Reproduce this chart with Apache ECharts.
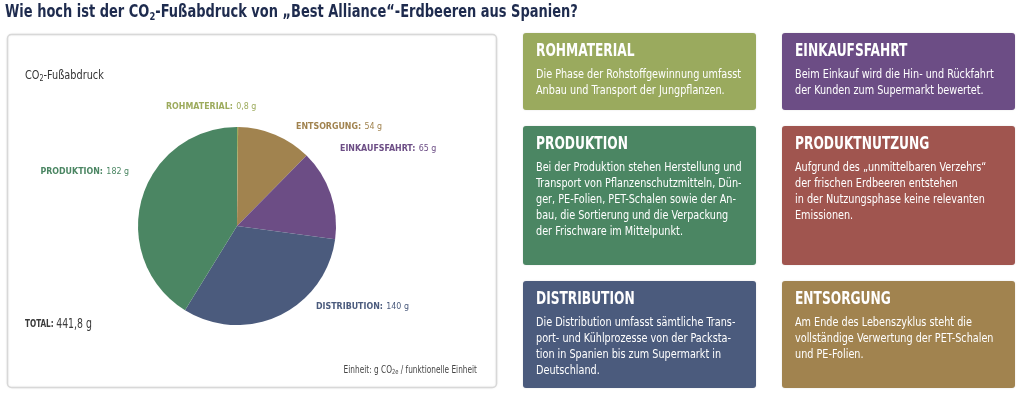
<!DOCTYPE html>
<html>
<head>
<meta charset="utf-8">
<script src="https://cdn.jsdelivr.net/npm/echarts@6/dist/echarts.min.js"></script>
<style>
  html, body { margin: 0; padding: 0; background: #fff; }
  #main { width: 1024px; height: 396px; }
</style>
</head>
<body>
<div id="main"></div>
<script>
// pie data (clockwise from 12 o'clock)
var phases = ['ROHMATERIAL', 'ENTSORGUNG', 'EINKAUFSFAHRT', 'DISTRIBUTION', 'PRODUKTION']
var grams = [0.8, 54, 65, 140, 182]
var phaseColors = ['#9dab5d', '#a1834f', '#6c4d85', '#4b5b7d', '#4b8663']
// where each label sits (x, y, align)
var labelAt = [
  [166, 107, 'left'],
  [296, 127, 'left'],
  [340, 149, 'left'],
  [316, 307, 'left'],
  [129, 172, 'right']
]

// info boxes on the right
var boxTitles = ['ROHMATERIAL', 'EINKAUFSFAHRT', 'PRODUKTION', 'PRODUKTNUTZUNG', 'DISTRIBUTION', 'ENTSORGUNG']
var boxColors = ['#9aaa5e', '#6c4d85', '#4b8663', '#a0554f', '#4b5b7d', '#a1834f']
var boxTexts = [
  'Die Phase der Rohstoffgewinnung umfasst\nAnbau und Transport der Jungpflanzen.',
  'Beim Einkauf wird die Hin- und Rückfahrt\nder Kunden zum Supermarkt bewertet.',
  'Bei der Produktion stehen Herstellung und\nTransport von Pflanzenschutzmitteln, Dün-\nger, PE-Folien, PET-Schalen sowie der An-\nbau, die Sortierung und die Verpackung\nder Frischware im Mittelpunkt.',
  'Aufgrund des „unmittelbaren Verzehrs“\nder frischen Erdbeeren entstehen\nin der Nutzungsphase keine relevanten\nEmissionen.',
  'Die Distribution umfasst sämtliche Trans-\nport- und Kühlprozesse von der Packsta-\ntion in Spanien bis zum Supermarkt in\nDeutschland.',
  'Am Ende des Lebenszyklus steht die\nvollständige Verwertung der PET-Schalen\nund PE-Folien.'
]
var boxCols = [523, 782]
var boxRows = [[33, 77], [126, 139], [281, 107]]
var boxW = 233

// no narrow font available, so texts get squeezed with scaleX
var FONT = '"DejaVu Sans Condensed", "DejaVu Sans", sans-serif'

function fmt(v) {
  return String(Math.round(v * 10) / 10).replace('.', ',')
}

var total = 0
for (var i = 0; i < grams.length; i++) total += grams[i]

var pieData = []
for (var i = 0; i < phases.length; i++) {
  pieData.push({
    name: phases[i],
    value: grams[i],
    itemStyle: { color: phaseColors[i] },
    label: { color: phaseColors[i] }
  })
}

var elements = []
// left panel frame
elements.push({
  type: 'rect',
  z: 0,
  shape: { x: 7.5, y: 34.5, width: 489, height: 353, r: 4 },
  style: { fill: '#fff', stroke: '#d8d8d8', lineWidth: 1.5, shadowBlur: 2, shadowColor: 'rgba(0,0,0,0.08)' }
})
// page title
elements.push({
  type: 'text',
  x: 5, y: 13, scaleX: 0.85,
  style: {
    text: '{t|Wie hoch ist der CO}{s|2}{t|-Fußabdruck von „Best Alliance“-Erdbeeren aus Spanien?}',
    verticalAlign: 'middle',
    rich: {
      t: { font: 'bold 17px ' + FONT, fill: '#1e2b4e', lineHeight: 22 },
      s: { font: 'bold 11px ' + FONT, fill: '#1e2b4e', lineHeight: 22, padding: [9, 0, 0, 0] }
    }
  }
})
// chart caption
elements.push({
  type: 'text',
  x: 25, y: 76, scaleX: 0.9,
  style: {
    text: '{t|CO}{s|2}{t|-Fußabdruck}',
    verticalAlign: 'middle',
    rich: {
      t: { font: '12px ' + FONT, fill: '#333', lineHeight: 16 },
      s: { font: '8px ' + FONT, fill: '#333', lineHeight: 16, padding: [6, 0, 0, 0] }
    }
  }
})
// total
elements.push({
  type: 'text',
  x: 25, y: 324, scaleX: 0.77,
  style: {
    text: '{b|TOTAL:} {v|' + fmt(total) + ' g}',
    verticalAlign: 'middle',
    rich: {
      b: { font: 'bold 10.5px ' + FONT, fill: '#3a3a3a' },
      v: { font: '13.5px ' + FONT, fill: '#3a3a3a' }
    }
  }
})
// unit note
elements.push({
  type: 'text',
  x: 477, y: 370, scaleX: 0.82,
  style: {
    text: '{t|Einheit: g CO}{s|2e}{t| / funktionelle Einheit}',
    align: 'right',
    verticalAlign: 'middle',
    rich: {
      t: { font: '10px ' + FONT, fill: '#444', lineHeight: 14 },
      s: { font: '7px ' + FONT, fill: '#444', lineHeight: 14, padding: [5, 0, 0, 0] }
    }
  }
})
// info boxes
for (var i = 0; i < boxTitles.length; i++) {
  var bx = boxCols[i % 2]
  var row = boxRows[Math.floor(i / 2)]
  elements.push({
    type: 'rect',
    shape: { x: bx, y: row[0], width: boxW, height: row[1], r: 3 },
    style: { fill: boxColors[i], shadowBlur: 2, shadowColor: 'rgba(0,0,0,0.12)' }
  })
  elements.push({
    type: 'text',
    x: bx + 13, y: row[0] + 19, scaleX: 0.8,
    style: { text: boxTitles[i], font: 'bold 17px ' + FONT, fill: '#fff', verticalAlign: 'middle' }
  })
  elements.push({
    type: 'text',
    x: bx + 13, y: row[0] + 34, scaleX: 0.86,
    style: { text: boxTexts[i], font: '12.5px ' + FONT, fill: '#fff', lineHeight: 16, verticalAlign: 'top' }
  })
}

var myChart = echarts.init(document.getElementById('main'))
var option = {
  animation: false,
  graphic: { elements: elements },
  series: [
    {
      type: 'pie',
      z: 3,
      center: [237, 226],
      radius: 99,
      startAngle: 90,
      clockwise: true,
      avoidLabelOverlap: false,
      itemStyle: { borderWidth: 0 },
      label: {
        show: true,
        position: 'outside',
        formatter: function (p) {
          return '{n|' + p.name + ':} {v|' + fmt(p.value) + ' g}'
        },
        rich: {
          n: { fontFamily: FONT, fontWeight: 'bold', fontSize: 8.8 },
          v: { fontFamily: FONT, fontSize: 8.8 }
        }
      },
      labelLine: { show: false },
      labelLayout: function (p) {
        var a = labelAt[p.dataIndex]
        return { x: a[0], y: a[1], align: a[2], verticalAlign: 'middle' }
      },
      data: pieData
    }
  ]
}
myChart.setOption(option)
</script>
</body>
</html>
